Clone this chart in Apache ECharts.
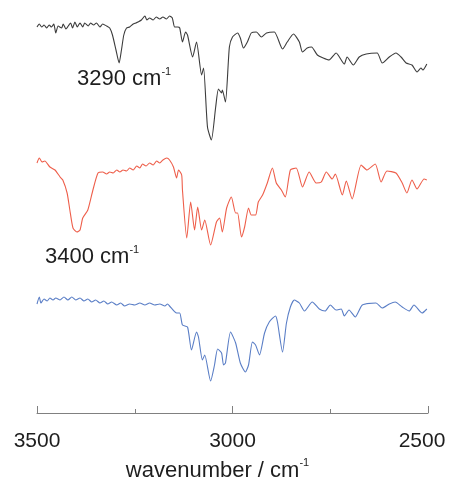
<!DOCTYPE html>
<html>
<head>
<meta charset="utf-8">
<script src="https://cdn.jsdelivr.net/npm/echarts@6/dist/echarts.min.js"></script>
<style>
html,body{margin:0;padding:0;background:#fff;}
#chart{width:449px;height:484px;}
</style>
</head>
<body>
<div id="chart"></div>
<script>
// wavenumber (cm-1) and relative signal (arbitrary units, vertically offset traces)
var blackWn = [3500,3494,3488,3482,3475,3469,3463,3457,3452,3446,3437,3433,3426,3420,3414,3409,3403,3397,3390,3383,3378,3369,3363,3355,3348,3339,3332,3322,3314,3307,3298,3290,3284,3278,3271,3263,3254,3247,3242,3233,3224,3219,3212,3203,3195,3186,3178,3169,3161,3154,3148,3140,3135,3128,3120,3115,3102,3092,3079,3074,3064,3054,3043,3036,3028,3026,3018,3008,3000,2987,2980,2972,2962,2952,2939,2926,2913,2893,2872,2860,2844,2829,2821,2809,2798,2783,2768,2753,2735,2714,2707,2691,2676,2658,2630,2617,2599,2582,2569,2556,2541,2528,2518,2513,2503];
var blackVal = [386,389,386,388,385,388,386,389,380,387,385,389,384,387,390,385,391,386,390,386,390,387,390,388,390,386,389,387,385,378,363,350,363,378,385,386,389,390,391,393,397,393,395,393,396,394,396,394,397,395,386,386,385,371,381,378,356,371,338,345,286,273,306,324,320,323,311,366,376,380,375,365,371,380,381,376,380,381,364,371,379,371,361,365,366,358,355,353,360,349,356,348,356,359,360,350,356,360,356,350,348,341,345,343,349];

var redWn = [3500,3494,3487,3480,3467,3454,3441,3434,3423,3416,3408,3398,3390,3383,3370,3357,3344,3332,3322,3314,3305,3296,3288,3280,3271,3263,3254,3245,3237,3230,3221,3212,3203,3194,3186,3178,3168,3161,3151,3143,3138,3130,3128,3117,3107,3097,3089,3079,3071,3056,3041,3033,3026,3015,3003,2992,2987,2977,2969,2959,2952,2941,2934,2923,2911,2898,2888,2875,2865,2852,2837,2821,2804,2786,2773,2760,2745,2737,2719,2709,2694,2671,2656,2635,2620,2605,2582,2566,2554,2541,2528,2510,2503];
var redVal = [250,255,251,252,246,243,236,233,220,203,185,181,183,195,203,223,240,241,239,241,240,243,241,243,242,245,243,247,245,249,247,250,248,252,250,253,255,253,246,235,243,238,223,175,211,183,206,183,193,168,191,195,181,205,216,200,200,176,186,205,198,198,211,218,230,245,230,223,216,243,245,226,241,230,231,241,234,239,218,232,214,248,243,249,231,242,240,230,220,233,224,234,233];

var blueWn = [3500,3494,3490,3482,3474,3467,3459,3452,3441,3431,3421,3411,3401,3390,3380,3370,3360,3350,3339,3329,3319,3309,3296,3286,3276,3263,3250,3237,3224,3212,3199,3186,3173,3166,3161,3143,3135,3128,3115,3105,3092,3087,3077,3071,3056,3046,3038,3028,3023,3018,3005,2992,2980,2967,2959,2949,2941,2931,2918,2906,2890,2885,2872,2862,2852,2842,2829,2816,2796,2778,2763,2750,2735,2722,2714,2702,2686,2668,2633,2617,2599,2584,2566,2548,2536,2515,2503];
var blueVal = [109,116,110,114,112,115,113,115,113,116,113,116,113,115,112,114,111,113,110,112,109,111,108,110,107,109,108,110,108,110,108,109,107,109,107,100,100,88,86,63,81,76,53,58,32,48,64,60,48,50,81,70,50,41,48,71,68,58,80,91,97,91,61,90,106,113,110,102,111,104,102,108,103,104,97,103,96,108,110,105,109,111,106,102,108,100,104];

var xTicks = [3500, 3000, 2500];
var annotations = ['3290 cm', '3400 cm'];
var axisTitle = 'wavenumber / cm';

function pairs(xs, ys) { return xs.map(function (x, i) { return [x, ys[i]]; }); }

var FONT = '"Liberation Sans", Arial, sans-serif';
var TXT = '#1e1e1e';
var chart = echarts.init(document.getElementById('chart'), null, {renderer: 'canvas'});

function lineSeries(name, xs, ys, color) {
  return {
    name: name, type: 'line', data: pairs(xs, ys), showSymbol: false, smooth: 0.2,
    lineStyle: {color: color, width: 1.1}, silent: true, animation: false
  };
}

var supRich = {
  m: {fontSize: 22, fontFamily: FONT, lineHeight: 26, fill: TXT, color: TXT, verticalAlign: 'middle'},
  s: {fontSize: 11, fontFamily: FONT, lineHeight: 22, fill: TXT, color: TXT, verticalAlign: 'top'}
};

chart.setOption({
  animation: false,
  backgroundColor: '#ffffff',
  grid: {left: 37, right: 21, top: 0, bottom: 71, containLabel: false, outerBoundsMode: 'none'},
  xAxis: {
    type: 'value', inverse: true, min: 2500, max: 3500, interval: 500,
    splitLine: {show: false},
    axisLine: {show: true, lineStyle: {color: '#808080', width: 1}},
    axisTick: {show: true, inside: true, length: 7, lineStyle: {color: '#808080'}},
    minorTick: {show: true, splitNumber: 2, length: 4, lineStyle: {color: '#808080'}},
    axisLabel: {
      margin: 16, fontSize: 21, lineHeight: 24, color: TXT, fontFamily: FONT,
      formatter: function (v) {
        if (xTicks.indexOf(v) < 0) return '';
        return v === 2500 ? '{r|' + v + '}' : '{n|' + v + '}';
      },
      rich: {
        n: {fontSize: 21, lineHeight: 24, color: TXT, fontFamily: FONT},
        r: {fontSize: 21, lineHeight: 24, color: TXT, fontFamily: FONT, padding: [0, 12, 0, 0]}
      }
    },
    name: '{m|' + axisTitle + '}{s|-1}', nameLocation: 'middle', nameGap: 41,
    nameTextStyle: {
      fontSize: 22, color: TXT, fontFamily: FONT, lineHeight: 26, padding: [0, 30, 0, 0],
      rich: {
        m: {fontSize: 22, color: TXT, fontFamily: FONT, lineHeight: 26, verticalAlign: 'middle'},
        s: {fontSize: 11, color: TXT, fontFamily: FONT, lineHeight: 22, verticalAlign: 'top'}
      }
    }
  },
  yAxis: {type: 'value', min: 0, max: 413, show: false},
  series: [
    lineSeries('black', blackWn, blackVal, '#3c3c3c'),
    lineSeries('red', redWn, redVal, '#ee5e4a'),
    lineSeries('blue', blueWn, blueVal, '#5a7ec6')
  ],
  graphic: [
    {type: 'text', left: 77, top: 66, silent: true, style: {
      text: '{m|' + annotations[0] + '}{s|-1}', fill: TXT, rich: supRich
    }},
    {type: 'text', left: 45, top: 244, silent: true, style: {
      text: '{m|' + annotations[1] + '}{s|-1}', fill: TXT, rich: supRich
    }}
  ]
});
</script>
</body>
</html>
